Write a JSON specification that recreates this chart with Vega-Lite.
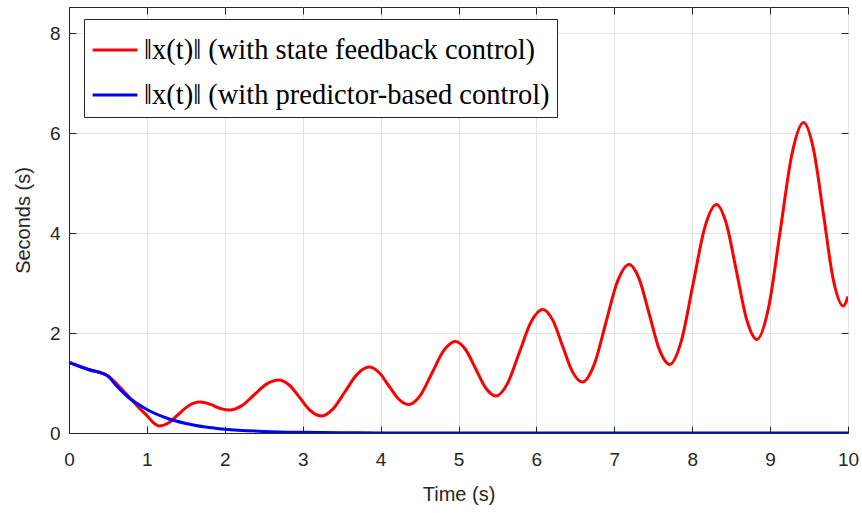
{
  "$schema": "https://vega.github.io/schema/vega-lite/v6.json",
  "width": 779,
  "height": 426,
  "autosize": {"type": "none"},
  "padding": {"left": 69, "top": 7, "right": 14, "bottom": 80},
  "background": "white",
  "config": {
    "view": {"stroke": "#262626", "strokeWidth": 1},
    "axis": {
      "gridColor": "#e3e3e3",
      "gridWidth": 1,
      "domainColor": "#262626",
      "tickColor": "#262626",
      "labelColor": "#262626",
      "titleColor": "#262626",
      "labelFont": "Liberation Sans",
      "titleFont": "Liberation Sans",
      "labelFontSize": 19,
      "titleFontSize": 20,
      "titleFontWeight": "normal",
      "labelFlush": false
    }
  },
  "data": {
    "values": [
      {"t": 0, "v": 1.414, "s": "red"},
      {"t": 0.25, "v": 1.27, "s": "red"},
      {"t": 0.5, "v": 1.14, "s": "red"},
      {"t": 0.7, "v": 0.84, "s": "red"},
      {"t": 0.9, "v": 0.5, "s": "red"},
      {"t": 1.0, "v": 0.35, "s": "red"},
      {"t": 1.08, "v": 0.21, "s": "red"},
      {"t": 1.155, "v": 0.14, "s": "red"},
      {"t": 1.284, "v": 0.21, "s": "red"},
      {"t": 1.41, "v": 0.38, "s": "red"},
      {"t": 1.541, "v": 0.55, "s": "red"},
      {"t": 1.67, "v": 0.62, "s": "red"},
      {"t": 1.77, "v": 0.597, "s": "red"},
      {"t": 1.865, "v": 0.54, "s": "red"},
      {"t": 1.96, "v": 0.483, "s": "red"},
      {"t": 2.06, "v": 0.46, "s": "red"},
      {"t": 2.22, "v": 0.548, "s": "red"},
      {"t": 2.375, "v": 0.76, "s": "red"},
      {"t": 2.53, "v": 0.972, "s": "red"},
      {"t": 2.69, "v": 1.06, "s": "red"},
      {"t": 2.83, "v": 0.955, "s": "red"},
      {"t": 2.965, "v": 0.7, "s": "red"},
      {"t": 3.1, "v": 0.445, "s": "red"},
      {"t": 3.24, "v": 0.34, "s": "red"},
      {"t": 3.39, "v": 0.483, "s": "red"},
      {"t": 3.545, "v": 0.83, "s": "red"},
      {"t": 3.7, "v": 1.177, "s": "red"},
      {"t": 3.85, "v": 1.32, "s": "red"},
      {"t": 3.98, "v": 1.21, "s": "red"},
      {"t": 4.105, "v": 0.945, "s": "red"},
      {"t": 4.23, "v": 0.68, "s": "red"},
      {"t": 4.36, "v": 0.57, "s": "red"},
      {"t": 4.51, "v": 0.754, "s": "red"},
      {"t": 4.66, "v": 1.2, "s": "red"},
      {"t": 4.81, "v": 1.646, "s": "red"},
      {"t": 4.96, "v": 1.83, "s": "red"},
      {"t": 5.09, "v": 1.67, "s": "red"},
      {"t": 5.22, "v": 1.285, "s": "red"},
      {"t": 5.35, "v": 0.9, "s": "red"},
      {"t": 5.48, "v": 0.74, "s": "red"},
      {"t": 5.63, "v": 0.993, "s": "red"},
      {"t": 5.78, "v": 1.605, "s": "red"},
      {"t": 5.93, "v": 2.217, "s": "red"},
      {"t": 6.08, "v": 2.47, "s": "red"},
      {"t": 6.21, "v": 2.258, "s": "red"},
      {"t": 6.335, "v": 1.745, "s": "red"},
      {"t": 6.46, "v": 1.232, "s": "red"},
      {"t": 6.59, "v": 1.02, "s": "red"},
      {"t": 6.74, "v": 1.363, "s": "red"},
      {"t": 6.89, "v": 2.195, "s": "red"},
      {"t": 7.04, "v": 3.027, "s": "red"},
      {"t": 7.19, "v": 3.37, "s": "red"},
      {"t": 7.32, "v": 3.078, "s": "red"},
      {"t": 7.45, "v": 2.37, "s": "red"},
      {"t": 7.58, "v": 1.662, "s": "red"},
      {"t": 7.71, "v": 1.37, "s": "red"},
      {"t": 7.86, "v": 1.837, "s": "red"},
      {"t": 8.01, "v": 2.97, "s": "red"},
      {"t": 8.16, "v": 4.103, "s": "red"},
      {"t": 8.31, "v": 4.57, "s": "red"},
      {"t": 8.44, "v": 4.176, "s": "red"},
      {"t": 8.57, "v": 3.22, "s": "red"},
      {"t": 8.7, "v": 2.264, "s": "red"},
      {"t": 8.83, "v": 1.87, "s": "red"},
      {"t": 8.98, "v": 2.504, "s": "red"},
      {"t": 9.13, "v": 4.04, "s": "red"},
      {"t": 9.28, "v": 5.576, "s": "red"},
      {"t": 9.43, "v": 6.21, "s": "red"},
      {"t": 9.557, "v": 5.674, "s": "red"},
      {"t": 9.685, "v": 4.375, "s": "red"},
      {"t": 9.81, "v": 3.076, "s": "red"},
      {"t": 9.94, "v": 2.54, "s": "red"},
      {"t": 10, "v": 2.73, "s": "red"},
      {"t": 0, "v": 1.414, "s": "blue"},
      {"t": 0.25, "v": 1.27, "s": "blue"},
      {"t": 0.5, "v": 1.14, "s": "blue"},
      {"t": 0.6, "v": 0.96, "s": "blue"},
      {"t": 0.75, "v": 0.73, "s": "blue"},
      {"t": 1.0, "v": 0.47, "s": "blue"},
      {"t": 1.25, "v": 0.3, "s": "blue"},
      {"t": 1.5, "v": 0.19, "s": "blue"},
      {"t": 1.75, "v": 0.12, "s": "blue"},
      {"t": 2.0, "v": 0.075, "s": "blue"},
      {"t": 2.5, "v": 0.032, "s": "blue"},
      {"t": 3.0, "v": 0.013, "s": "blue"},
      {"t": 3.5, "v": 0.005, "s": "blue"},
      {"t": 4.0, "v": 0.002, "s": "blue"},
      {"t": 5.0, "v": 0, "s": "blue"},
      {"t": 6.0, "v": 0, "s": "blue"},
      {"t": 7.0, "v": 0, "s": "blue"},
      {"t": 8.0, "v": 0, "s": "blue"},
      {"t": 9.0, "v": 0, "s": "blue"},
      {"t": 10.0, "v": 0, "s": "blue"}
    ]
  },
  "transform": [
    {"calculate": "datum.s === 'red' ? '‖x(t)‖ (with state feedback control)' : '‖x(t)‖ (with predictor-based control)'", "as": "series"}
  ],
  "resolve": {"axis": {"x": "independent", "y": "independent"}},
  "layer": [
    {
      "mark": {"type": "line", "strokeWidth": 3, "interpolate": "monotone", "clip": true},
      "encoding": {
        "x": {"field": "t", "type": "quantitative", "scale": {"domain": [0, 10], "nice": false}, "axis": {"orient": "bottom", "grid": true, "title": "Time (s)", "values": [0,1,2,3,4,5,6,7,8,9,10], "tickSize": -7, "labelPadding": 24, "titlePadding": 15}},
        "y": {"field": "v", "type": "quantitative", "scale": {"domain": [0, 8.52], "nice": false}, "axis": {"orient": "left", "grid": true, "title": "Seconds (s)", "values": [0,2,4,6,8], "tickSize": -7, "labelPadding": 16, "titlePadding": 16}},
        "color": {
          "field": "series", "type": "nominal",
          "scale": {"domain": ["‖x(t)‖ (with state feedback control)", "‖x(t)‖ (with predictor-based control)"], "range": ["#ff0000", "#0000ff"]},
          "legend": {
            "title": null,
            "orient": "none",
            "legendX": 15,
            "legendY": 12,
            "direction": "vertical",
            "fillColor": "white",
            "strokeColor": "#262626",
            "padding": 7,
            "labelFont": "Liberation Serif",
            "labelFontSize": 28.5,
            "labelColor": "black",
            "labelLimit": 600,
            "symbolType": "stroke",
            "symbolSize": 2000,
            "symbolStrokeWidth": 3,
            "rowPadding": 6,
            "labelOffset": 5
          }
        },
        "detail": {"field": "s"}
      }
    },
    {
      "mark": {"type": "line", "opacity": 0},
      "encoding": {
        "x": {"field": "t", "type": "quantitative", "scale": {"domain": [0, 10], "nice": false}, "axis": {"orient": "top", "grid": false, "title": null, "labels": false, "domain": false, "values": [0,1,2,3,4,5,6,7,8,9,10], "tickSize": -7}},
        "y": {"field": "v", "type": "quantitative", "scale": {"domain": [0, 8.52], "nice": false}, "axis": {"orient": "right", "grid": false, "title": null, "labels": false, "domain": false, "values": [0,2,4,6,8], "tickSize": -7}},
        "detail": {"field": "s"}
      }
    }
  ]
}
